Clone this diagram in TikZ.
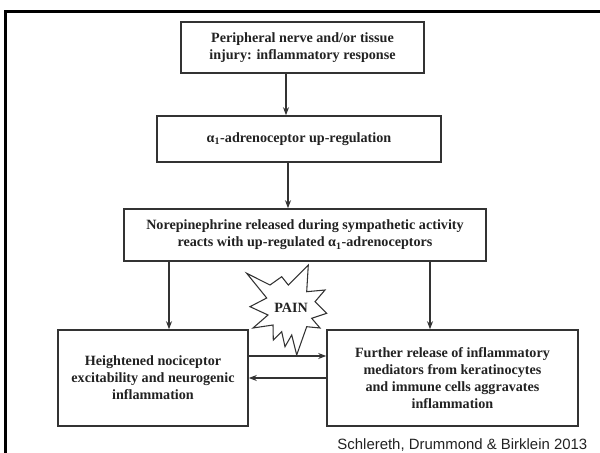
\documentclass[tikz,border=0pt]{standalone}
\usepackage{fontspec}
\setmainfont{Liberation Serif}
\newfontfamily\citefont{Liberation Sans}
\usetikzlibrary{arrows.meta}
\definecolor{ink}{HTML}{222222}
\definecolor{rule}{HTML}{333333}
\begin{document}
\begin{tikzpicture}[x=0.75pt,y=-0.75pt,
  box/.style={draw=rule, line width=1.2pt, fill=white, align=center, inner sep=0pt,
    text=ink, font=\bfseries\fontsize{10.6}{12.8}\selectfont},
  link/.style={draw=rule, line width=0.8pt, -{Stealth[length=6pt,width=4.5pt]}},
  burst/.style={draw=rule, line width=0.8pt, fill=white, line join=miter}]
\useasboundingbox (0,0) rectangle (600,453);
% slide frame, open towards the right and bottom edges
\draw[black, line width=2pt] (5.5,460) -- (5.5,11.5) -- (610,11.5);

% boxes
\node[box, minimum width=243*0.75pt, minimum height=51*0.75pt] (inj) at (302.5,47.5)
  {Peripheral nerve and/or tissue\\injury: inflammatory response};
\node[box, minimum width=284*0.75pt, minimum height=46*0.75pt] (up) at (299,139)
  {α\textsubscript{1}-adrenoceptor up-regulation};
\node[box, minimum width=362*0.75pt, minimum height=52*0.75pt] (ne) at (305,235)
  {Norepinephrine released during sympathetic activity\\reacts with up-regulated α\textsubscript{1}-adrenoceptors};
\node[box, minimum width=190*0.75pt, minimum height=96*0.75pt] (noci) at (153,378)
  {Heightened nociceptor\\excitability and neurogenic\\inflammation};
\node[box, minimum width=251*0.75pt, minimum height=96*0.75pt] (med) at (452.5,378)
  {Further release of inflammatory\\mediators from keratinocytes\\and immune cells aggravates\\inflammation};

% guide coordinates for the connector positions
\coordinate (g1) at (286,0);
\coordinate (g2) at (288,0);
\coordinate (gl) at (169,0);
\coordinate (gr) at (430,0);
\coordinate (hu) at (0,356);
\coordinate (hd) at (0,378);

% starburst
\draw[burst] (246.7,273.3) -- (270,285) -- (281.7,276.7) -- (288.3,285) -- (308.3,265)
  -- (306.7,291.7) -- (325,290) -- (315,301.7) -- (326.7,313.3) -- (311.7,318.3)
  -- (320,328) -- (306.7,326.7) -- (296.7,355) -- (291.7,335) -- (285,346.7)
  -- (281.7,331.7) -- (273.3,340) -- (273,325) -- (253,328) -- (268,315)
  -- (250,306.7) -- (266.7,298) -- cycle;
\node[text=ink, font=\bfseries\fontsize{10.6}{12.8}\selectfont] (pain) at (291,308) {PAIN};

% connectors
\draw[link] (inj.south -| g1) -- (up.north -| g1);
\draw[link] (up.south -| g2) -- (ne.north -| g2);
\draw[link] (ne.south -| gl) -- (noci.north -| gl);
\draw[link] (ne.south -| gr) -- (med.north -| gr);
\draw[link] (noci.east |- hu) -- (med.west |- hu);
\draw[link] (med.west |- hd) -- (noci.east |- hd);

% source line
\node[anchor=base east, text=ink, font=\citefont\fontsize{11.2}{13}\selectfont] (src) at (592,449)
  {Schlereth, Drummond \& Birklein 2013};
\end{tikzpicture}
\end{document}
